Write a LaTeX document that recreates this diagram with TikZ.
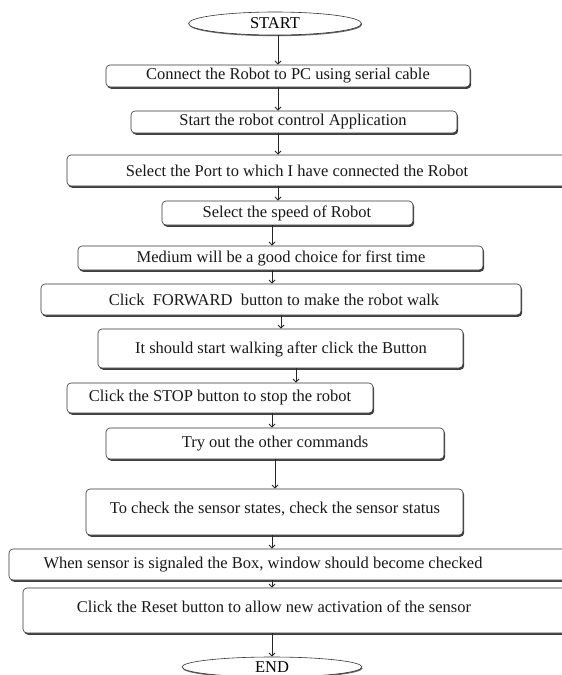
\documentclass[tikz,border=0pt]{standalone}
\usepackage{fontspec}
\setmainfont{Liberation Serif}
\usetikzlibrary{shapes.geometric,shadows,arrows.meta}
\tikzset{
  stepbox/.style={draw=black!80, line width=0.6pt, rounded corners=4pt, fill=white,
    drop shadow={shadow xshift=1.2pt, shadow yshift=-1.8pt, fill=black!75, opacity=1},
    inner sep=0pt},
  term/.style={ellipse, draw=black!80, line width=0.6pt, fill=white, inner sep=0pt,
    drop shadow={shadow xshift=0.6pt, shadow yshift=-1.2pt, fill=black!60, opacity=1},
    font=\fontsize{16.5}{18}\selectfont},
  txt/.style={font=\fontsize{16.5}{18}\selectfont, inner sep=0pt, text=black!90},
  arr/.style={draw=black!85, line width=1pt, -{Straight Barb[length=3pt,width=6pt]}}
}
\newcommand{\stepnode}[8]{%
  % #1 name, #2 x1, #3 x2, #4 y1, #5 y2, #6 text x, #7 text y shift, #8 text
  \node[stepbox, minimum width={(#3-#2)*1pt}, minimum height={(#5-#4)*1pt}] (#1) at ({(#2+#3)/2},{(#4+#5)/2}) {};
  \node[txt] (#1t) at (#6,{(#4+#5)/2+#7}) {#8};
}
\begin{document}
\begin{tikzpicture}[x=1pt,y=-1pt]
\useasboundingbox (0,0) rectangle (562,675);
\clip (0,0) rectangle (562,675);
\fill[white] (0,0) rectangle (562,675);

\node[term, minimum width=173pt, minimum height=23pt] (start) at (275,23.5) {START};

\stepnode{b1}{106}{470}{65}{87}{288}{0}{Connect the Robot to PC using serial cable}
\stepnode{b2}{131}{457}{111}{133}{293}{0}{Start the robot control Application}
\stepnode{b3}{67}{600}{155}{186}{297}{0}{Select the Port to which I have connected the Robot}
\stepnode{b4}{162}{413}{201}{225}{287}{0}{Select the speed of Robot}
\stepnode{b5}{78}{483}{246}{270}{281}{0}{Medium will be a good choice for first time}
\stepnode{b6}{41}{521}{284}{315}{274}{0}{Click\ \ FORWARD\ \ button to make the robot walk}
\stepnode{b7}{98}{463}{329}{368}{281}{1}{It should start walking after click the Button}
\stepnode{b8}{67}{373}{383}{413}{220}{0}{Click the STOP button to stop the robot}
\stepnode{b9}{106}{444}{428}{459}{275}{0}{Try out the other commands}
\stepnode{b10}{86}{463}{489}{535}{275}{-3}{To check the sensor states, check the sensor status}
\stepnode{b11}{9}{600}{549}{580}{263}{0}{When sensor is signaled the Box, window should become checked}
\stepnode{b12}{23}{600}{588}{633}{274}{-4}{Click the Reset button to allow new activation of the sensor}

\node[term, minimum width=180pt, minimum height=20pt] (end) at (272,667) {END};

\coordinate (xa) at (278,0);
\coordinate (xb) at (272,0);
\coordinate (xc) at (281,0);
\coordinate (xd) at (296,0);
\coordinate (xe) at (275,0);

\draw[arr] (start.south -| xa) -- (b1.north -| xa);
\draw[arr] (b1.south -| xa) -- (b2.north -| xa);
\draw[arr] (b2.south -| xa) -- (b3.north -| xa);
\draw[arr] (b3.south -| xa) -- (b4.north -| xa);
\draw[arr] (b4.south -| xb) -- (b5.north -| xb);
\draw[arr] (b5.south -| xb) -- (b6.north -| xb);
\draw[arr] (b6.south -| xc) -- (b7.north -| xc);
\draw[arr] (b7.south -| xd) -- (b8.north -| xd);
\draw[arr] (b8.south -| xb) -- (b9.north -| xb);
\draw[arr] (b9.south -| xe) -- (b10.north -| xe);
\draw[arr] (b10.south -| xb) -- (b11.north -| xb);
\draw[arr] (b11.south -| xb) -- (b12.north -| xb);
\draw[arr] (b12.south -| xb) -- (end.north -| xb);
\end{tikzpicture}
\end{document}
